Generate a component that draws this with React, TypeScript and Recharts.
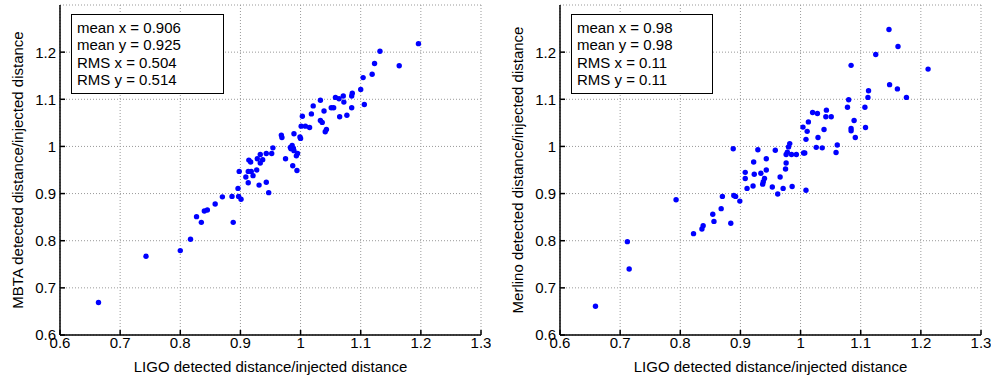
import React from 'react';
import { ScatterChart, Scatter, XAxis, YAxis, CartesianGrid } from 'recharts';

// LIGO vs MBTA (left panel)
const mbtaLigo = [
  0.664, 0.743, 0.8, 0.817, 0.827, 0.835, 0.84, 0.845, 0.858, 0.87, 0.886, 0.888, 0.896, 0.897, 0.901, 0.913,
  0.898, 0.909, 0.913, 0.914, 0.917, 0.918, 0.921, 0.927, 0.928, 0.931, 0.933, 0.933, 0.937, 0.943, 0.943, 0.947,
  0.952, 0.954, 0.968, 0.969, 0.975, 0.983, 0.986, 0.988, 0.989, 0.984, 0.987, 0.989, 0.994, 0.993, 0.995, 0.999,
  1.0, 1.001, 1.008, 1.015, 1.003, 1.018, 1.021, 1.033, 1.033, 1.036, 1.039, 1.041, 1.043, 1.051, 1.055, 1.058,
  1.064, 1.065, 1.071, 1.072, 1.077, 1.085, 1.086, 1.085, 1.1, 1.104, 1.106, 1.119, 1.123, 1.132, 1.164, 1.196,
];
const mbtaDist = [
  0.669, 0.767, 0.779, 0.803, 0.851, 0.839, 0.863, 0.865, 0.878, 0.893, 0.894, 0.839, 0.911, 0.894, 0.888, 0.923,
  0.947, 0.935, 0.947, 0.971, 0.967, 0.947, 0.938, 0.95, 0.974, 0.918, 0.983, 0.965, 0.972, 0.985, 0.924, 0.902,
  0.985, 0.997, 1.024, 1.019, 0.974, 0.998, 1.002, 0.996, 0.991, 0.995, 0.959, 1.027, 0.949, 0.98, 0.985, 1.02,
  1.017, 1.043, 1.043, 1.04, 1.064, 1.069, 1.086, 1.098, 1.055, 1.051, 1.075, 1.031, 1.036, 1.082, 1.082, 1.104,
  1.101, 1.063, 1.107, 1.094, 1.066, 1.107, 1.113, 1.082, 1.121, 1.146, 1.089, 1.153, 1.176, 1.202, 1.171, 1.218,
];

// LIGO vs Merlino (right panel)
const merlinoLigo = [
  0.659, 0.712, 0.715, 0.793, 0.822, 0.836, 0.838, 0.854, 0.856, 0.868, 0.87, 0.884, 0.889, 0.892, 0.888, 0.899,
  0.908, 0.908, 0.911, 0.921, 0.922, 0.923, 0.929, 0.934, 0.937, 0.938, 0.94, 0.943, 0.943, 0.953, 0.958, 0.962,
  0.966, 0.971, 0.975, 0.976, 0.976, 0.978, 0.98, 0.982, 0.985, 0.986, 0.993, 1.004, 1.005, 1.007, 1.009, 1.009,
  1.011, 1.013, 1.02, 1.028, 1.029, 1.026, 1.036, 1.039, 1.042, 1.043, 1.051, 1.059, 1.061, 1.147, 1.162, 1.125,
  1.084, 1.212, 1.148, 1.161, 1.113, 1.112, 1.176, 1.08, 1.078, 1.107, 1.089, 1.084, 1.084, 1.108, 1.091,
];
const merlinoDist = [
  0.661, 0.798, 0.74, 0.887, 0.815, 0.825, 0.832, 0.856, 0.841, 0.868, 0.894, 0.837, 0.896, 0.894, 0.995, 0.884,
  0.945, 0.932, 0.911, 0.916, 0.967, 0.941, 0.993, 0.943, 0.92, 0.925, 0.932, 0.974, 0.95, 0.914, 0.992, 0.899,
  0.935, 0.911, 0.952, 0.965, 0.983, 0.988, 0.999, 1.006, 0.983, 0.915, 0.983, 1.041, 0.986, 0.986, 0.907, 1.015,
  1.032, 1.052, 1.072, 1.07, 1.019, 0.998, 0.997, 1.036, 1.063, 1.077, 1.063, 0.987, 1.003, 1.248, 1.212, 1.195,
  1.172, 1.164, 1.131, 1.122, 1.118, 1.104, 1.104, 1.099, 1.083, 1.083, 1.055, 1.038, 1.033, 1.04, 1.019,
];

const xTicks = [0.6, 0.7, 0.8, 0.9, 1, 1.1, 1.2, 1.3];
const yTicks = [0.6, 0.7, 0.8, 0.9, 1, 1.1, 1.2];

const mbtaStats = ['mean x = 0.906', 'mean y = 0.925', 'RMS x = 0.504', 'RMS y = 0.514'];
const merlinoStats = ['mean x = 0.98', 'mean y = 0.98', 'RMS x = 0.11', 'RMS y = 0.11'];

const FONT = '"Liberation Sans", Arial, Helvetica, sans-serif';
const FS = 15;
const W = 491;
const H = 380;

const fmt = (v: number) => String(+v.toFixed(1));

const Dot = (props: any) => <circle cx={props.cx} cy={props.cy} r={2.7} fill="#0000ff" />;

// custom tick text so the font size sticks
const XTick = (p: any) => (
  <text x={p.x} y={p.y} dy="0.71em" textAnchor="middle" fontSize={FS} fontFamily={FONT} fill="#000">
    {fmt(p.payload.value)}
  </text>
);
const YTick = (p: any) => (
  <text x={p.x} y={p.y} dy="0.36em" textAnchor="end" fontSize={FS} fontFamily={FONT} fill="#000">
    {fmt(p.payload.value)}
  </text>
);

function Panel({ xs, ys, yLabel, stats, left, boxWidth }: {
  xs: number[]; ys: number[]; yLabel: string; stats: string[]; left: number; boxWidth: number;
}) {
  const points = xs.map((x, i) => ({ x, y: ys[i] }));

  return (
    <div style={{ position: 'absolute', left, top: 0, width: W, height: H }}>
      <ScatterChart width={W} height={H} margin={{ top: 5, right: 10, bottom: 0, left: 20 }}>
        <CartesianGrid stroke="#999" strokeDasharray="1 2" />
        <XAxis
          type="number" dataKey="x" domain={[0.6, 1.3]} ticks={xTicks} allowDataOverflow
          height={45} stroke="#000" strokeWidth={1.5}
          tickSize={-5} tickMargin={7} tick={XTick}
          label={({ viewBox }: any) => (
            <text x={viewBox.x + viewBox.width / 2} y={372} textAnchor="middle" fontSize={FS} fontFamily={FONT} fill="#000">
              LIGO detected distance/injected distance
            </text>
          )}
        />
        <XAxis
          xAxisId="top" orientation="top" type="number" domain={[0.6, 1.3]} ticks={xTicks}
          height={0} stroke="#000" strokeWidth={1.5} tickSize={-5} tick={false}
        />
        <YAxis
          type="number" dataKey="y" domain={[0.6, 1.3]} ticks={yTicks} allowDataOverflow
          width={40} stroke="#000" strokeWidth={1.5}
          tickSize={-5} tickMargin={9} tick={YTick}
          label={({ viewBox }: any) => {
            const cx = viewBox.x - 3;
            const cy = viewBox.y + viewBox.height / 2;
            return (
              <text x={cx} y={cy} transform={`rotate(-90 ${cx} ${cy})`} textAnchor="middle" dominantBaseline="central"
                fontSize={FS} fontFamily={FONT} fill="#000">
                {yLabel}
              </text>
            );
          }}
        />
        <YAxis
          yAxisId="right" orientation="right" type="number" domain={[0.6, 1.3]} ticks={yTicks}
          width={0} stroke="#000" strokeWidth={1.5} tickSize={-5} tick={false}
        />
        <Scatter data={points} shape={Dot} isAnimationActive={false} />
      </ScatterChart>
      <div style={{
        position: 'absolute', left: 71, top: 14, width: boxWidth, height: 80,
        border: '1px solid #000', background: '#fff', fontFamily: FONT, fontSize: FS,
        lineHeight: '17.4px', paddingLeft: 5, paddingTop: 4, boxSizing: 'border-box', color: '#000',
      }}>
        {stats.map((s) => <div key={s}>{s}</div>)}
      </div>
    </div>
  );
}

export default function App() {
  return (
    <div style={{ position: 'absolute', left: 0, top: 0, width: 991, height: 380, background: '#fff' }}>
      <Panel xs={mbtaLigo} ys={mbtaDist} yLabel="MBTA detected distance/injected distance" stats={mbtaStats} left={0} boxWidth={153} />
      <Panel xs={merlinoLigo} ys={merlinoDist} yLabel="Merlino detected distance/injected distance" stats={merlinoStats} left={500} boxWidth={142} />
    </div>
  );
}
